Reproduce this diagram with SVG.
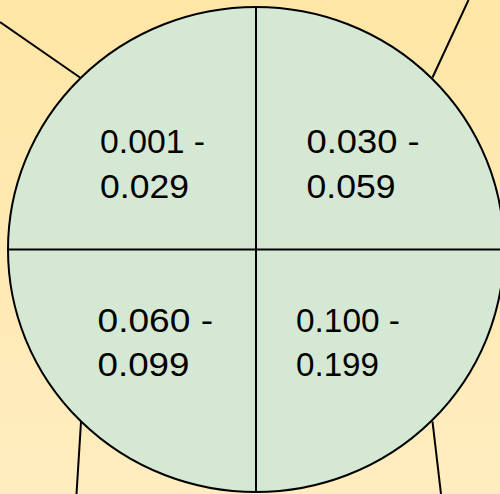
<svg xmlns="http://www.w3.org/2000/svg" width="500" height="494" viewBox="0 0 500 494">
<defs>
<linearGradient id="bg" x1="0" y1="0" x2="0" y2="1">
<stop offset="0" stop-color="#FFE6A6"/>
<stop offset="1" stop-color="#FFEDC0"/>
</linearGradient>
</defs>
<style>
.ln{stroke:#000;stroke-width:2;fill:none}
.t{font-family:"Liberation Sans",Arial,sans-serif;font-size:34px;fill:#000}
</style>
<rect x="0" y="0" width="500" height="494" fill="url(#bg)"/>
<g id="connectors">
<line class="ln" x1="0" y1="22" x2="80" y2="77.5"/>
<line class="ln" x1="468.5" y1="0" x2="432.5" y2="77.5"/>
<line class="ln" x1="81" y1="421.5" x2="76.5" y2="494"/>
<line class="ln" x1="432.5" y1="421.5" x2="441" y2="494"/>
</g>
<g id="circle">
<ellipse cx="256" cy="249.5" rx="248" ry="242.5" fill="#D5E8D4" stroke="#000" stroke-width="2"/>
<line class="ln" x1="256" y1="7" x2="256" y2="492"/>
<line class="ln" x1="8" y1="249.5" x2="504" y2="249.5"/>
</g>
<g id="q1"><text class="t" x="100" y="153" textLength="105" lengthAdjust="spacingAndGlyphs">0.001 -</text><text class="t" x="100" y="198" textLength="89" lengthAdjust="spacingAndGlyphs">0.029</text></g>
<g id="q2"><text class="t" x="306.5" y="152.5" textLength="113" lengthAdjust="spacingAndGlyphs">0.030 -</text><text class="t" x="306.5" y="198" textLength="89" lengthAdjust="spacingAndGlyphs">0.059</text></g>
<g id="q3"><text class="t" x="97.5" y="332" textLength="115.5" lengthAdjust="spacingAndGlyphs">0.060 -</text><text class="t" x="97.5" y="376" textLength="92" lengthAdjust="spacingAndGlyphs">0.099</text></g>
<g id="q4"><text class="t" x="296" y="332" textLength="104" lengthAdjust="spacingAndGlyphs">0.100 -</text><text class="t" x="296" y="376" textLength="83" lengthAdjust="spacingAndGlyphs">0.199</text></g>
</svg>
